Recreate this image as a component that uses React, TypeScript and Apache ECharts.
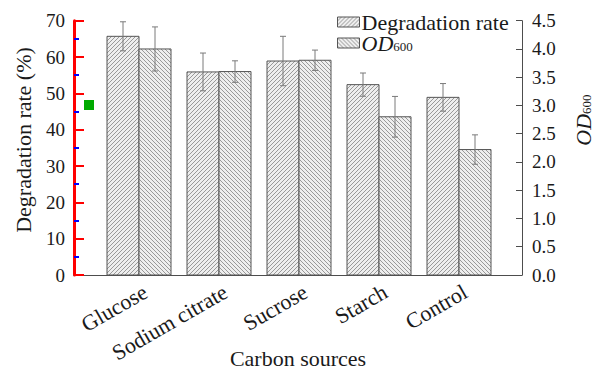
import React, { useEffect, useRef } from "react";
import * as echarts from "echarts";

const categories = ["Glucose", "Sodium citrate", "Sucrose", "Starch", "Control"];
const degradation = [65.7, 55.9, 58.9, 52.4, 48.9];
const degradationErr = [4.0, 5.2, 6.8, 3.2, 3.8];
const od600 = [4.0, 3.6, 3.8, 2.8, 2.22];
const od600Err = [0.39, 0.19, 0.18, 0.36, 0.26];
const leftTicks = { min: 0, max: 70, interval: 10 };
const rightTicks = { min: 0, max: 4.5, interval: 0.5 };

const FONT = '"Liberation Serif", "Times New Roman", serif';
const X_MIN = 0.1875;
const X_MAX = 5.7875;

function makePattern(dir: "/" | "\\") {
  const s = 4;
  const c = document.createElement("canvas");
  c.width = s;
  c.height = s;
  const ctx = c.getContext("2d")!;
  ctx.fillStyle = "#eeeeee";
  ctx.fillRect(0, 0, s, s);
  ctx.strokeStyle = "#999999";
  ctx.lineWidth = 1;
  ctx.beginPath();
  if (dir === "/") {
    ctx.moveTo(0, s); ctx.lineTo(s, 0);
    ctx.moveTo(-1, 1); ctx.lineTo(1, -1);
    ctx.moveTo(s - 1, s + 1); ctx.lineTo(s + 1, s - 1);
  } else {
    ctx.moveTo(0, 0); ctx.lineTo(s, s);
    ctx.moveTo(-1, s - 1); ctx.lineTo(1, s + 1);
    ctx.moveTo(s - 1, -1); ctx.lineTo(s + 1, 1);
  }
  ctx.stroke();
  return { image: c, repeat: "repeat" } as any;
}

export default function App() {
  const ref = useRef<HTMLDivElement>(null);
  useEffect(() => {
    document.body.style.margin = "0";
    const chart = echarts.init(ref.current!, null, { renderer: "svg" });
    const patDeg = makePattern("/");
    const patOd = makePattern("\\");
    const BW = 0.4;
    const makeRender = (offset: number, pattern: any) => (params: any, api: any) => {
      const i = api.value(0);
      const v = api.value(1);
      const e = api.value(2);
      const tl = api.coord([i + offset, v]);
      const br = api.coord([i + offset + BW, 0]);
      const cx = api.coord([i + offset + BW / 2, v])[0];
      const top = api.coord([i, v + e])[1];
      const bot = api.coord([i, v - e])[1];
      const es = { stroke: "#7a7a7a", lineWidth: 1 };
      return {
        type: "group",
        children: [
          {
            type: "rect",
            shape: { x: tl[0], y: tl[1], width: br[0] - tl[0], height: br[1] - tl[1] },
            style: { fill: pattern, stroke: "#555", lineWidth: 1 },
          },
          { type: "line", shape: { x1: cx, y1: top, x2: cx, y2: bot }, style: es },
          { type: "line", shape: { x1: cx - 3, y1: top, x2: cx + 3, y2: top }, style: es },
          { type: "line", shape: { x1: cx - 3, y1: bot, x2: cx + 3, y2: bot }, style: es },
        ],
      };
    };
    const option: any = {
      animation: false,
      grid: { left: 74, right: 73, top: 20.7, bottom: 95.3 },
      legend: {
        orient: "vertical",
        left: 337,
        top: 11,
        padding: 0,
        itemWidth: 22,
        itemHeight: 10,
        itemGap: -1,
        icon: "rect",
        textStyle: {
          fontFamily: FONT,
          fontSize: 22,
          lineHeight: 20,
          color: "#1a1a1a",
          padding: [0, 0, 0, -3],
          rich: {
            i: { fontFamily: FONT, fontSize: 22, lineHeight: 20, fontStyle: "italic", color: "#1a1a1a" },
            s: { fontFamily: FONT, fontSize: 13, lineHeight: 14, verticalAlign: "bottom", color: "#1a1a1a", padding: [4, 0, 0, 0] },
          },
        },
        formatter: (name: string) => (name === "OD600" ? "{i|OD}{s|600}" : name),
        data: [
          { name: "Degradation rate", itemStyle: { color: patDeg, borderColor: "#555", borderWidth: 1 } },
          { name: "OD600", itemStyle: { color: patOd, borderColor: "#555", borderWidth: 1 } },
        ],
      },
      xAxis: {
        type: "value",
        min: X_MIN,
        max: X_MAX,
        axisLine: { show: true, onZero: false, lineStyle: { color: "#4d4d4d", width: 1 } },
        axisTick: { show: false },
        splitLine: { show: false },
        axisLabel: {
          customValues: categories.map((_, i) => i + 1.08),
          formatter: (v: number) => categories[Math.round(v) - 1] ?? "",
          rotate: 30,
          margin: 15,
          fontFamily: FONT,
          fontSize: 22,
          color: "#1a1a1a",
        },
        name: "Carbon sources",
        nameLocation: "middle",
        nameGap: 72,
        nameMoveOverlap: false,
        nameTextStyle: { fontFamily: FONT, fontSize: 22, color: "#1a1a1a" },
      },
      yAxis: [
        {
          type: "value",
          position: "left",
          min: leftTicks.min,
          max: leftTicks.max,
          interval: leftTicks.interval,
          axisLine: { show: true, onZero: false, lineStyle: { color: "#ff0000", width: 3 } },
          axisTick: { show: true, inside: true, length: 10, lineStyle: { color: "#ff0000", width: 2 } },
          minorTick: { show: true, splitNumber: 2, length: 5, lineStyle: { color: "#0000ff", width: 2 } },
          splitLine: { show: false },
          axisLabel: { fontFamily: FONT, fontSize: 19, color: "#1a1a1a", margin: 9 },
        },
        {
          type: "value",
          position: "right",
          min: rightTicks.min,
          max: rightTicks.max,
          interval: rightTicks.interval,
          axisLine: { show: true, onZero: false, lineStyle: { color: "#4d4d4d", width: 1 } },
          axisTick: { show: true, inside: true, length: 6, lineStyle: { color: "#4d4d4d", width: 1 } },
          splitLine: { show: false },
          axisLabel: { fontFamily: FONT, fontSize: 19, color: "#1a1a1a", margin: 10, formatter: (v: number) => v.toFixed(1) },
        },
      ],
      graphic: [
        {
          type: "text",
          x: 23.5,
          y: 140,
          rotation: Math.PI / 2,
          style: {
            text: "Degradation rate (%)",
            fontFamily: FONT,
            fontSize: 22,
            fill: "#1a1a1a",
            align: "center",
            verticalAlign: "middle",
          },
        },
        {
          type: "text",
          x: 583,
          y: 120,
          rotation: Math.PI / 2,
          style: {
            text: "{i|OD}{s|600}",
            fill: "#1a1a1a",
            align: "center",
            verticalAlign: "middle",
            rich: {
              i: { fontFamily: FONT, fontSize: 22, lineHeight: 20, fontStyle: "italic", fill: "#1a1a1a" },
              s: { fontFamily: FONT, fontSize: 13, lineHeight: 14, verticalAlign: "bottom", fill: "#1a1a1a", padding: [4, 0, 0, 0] },
            },
          },
        },
        {
          type: "rect",
          shape: { x: 84, y: 100, width: 10, height: 10 },
          style: { fill: "#00aa00" },
          z: 100,
        },
      ],
      series: [
        {
          type: "custom",
          name: "Degradation rate",
          xAxisIndex: 0,
          yAxisIndex: 0,
          itemStyle: { color: patDeg, borderColor: "#555", borderWidth: 1 },
          encode: { x: 0, y: 1 },
          data: categories.map((_, i) => [i + 1, degradation[i], degradationErr[i]]),
          renderItem: makeRender(-BW, patDeg),
        },
        {
          type: "custom",
          name: "OD600",
          xAxisIndex: 0,
          yAxisIndex: 1,
          itemStyle: { color: patOd, borderColor: "#555", borderWidth: 1 },
          encode: { x: 0, y: 1 },
          data: categories.map((_, i) => [i + 1, od600[i], od600Err[i]]),
          renderItem: makeRender(0, patOd),
        },
      ],
    };
    chart.setOption(option);
    return () => chart.dispose();
  }, []);
  return <div ref={ref} style={{ width: 595, height: 374 }} />;
}
